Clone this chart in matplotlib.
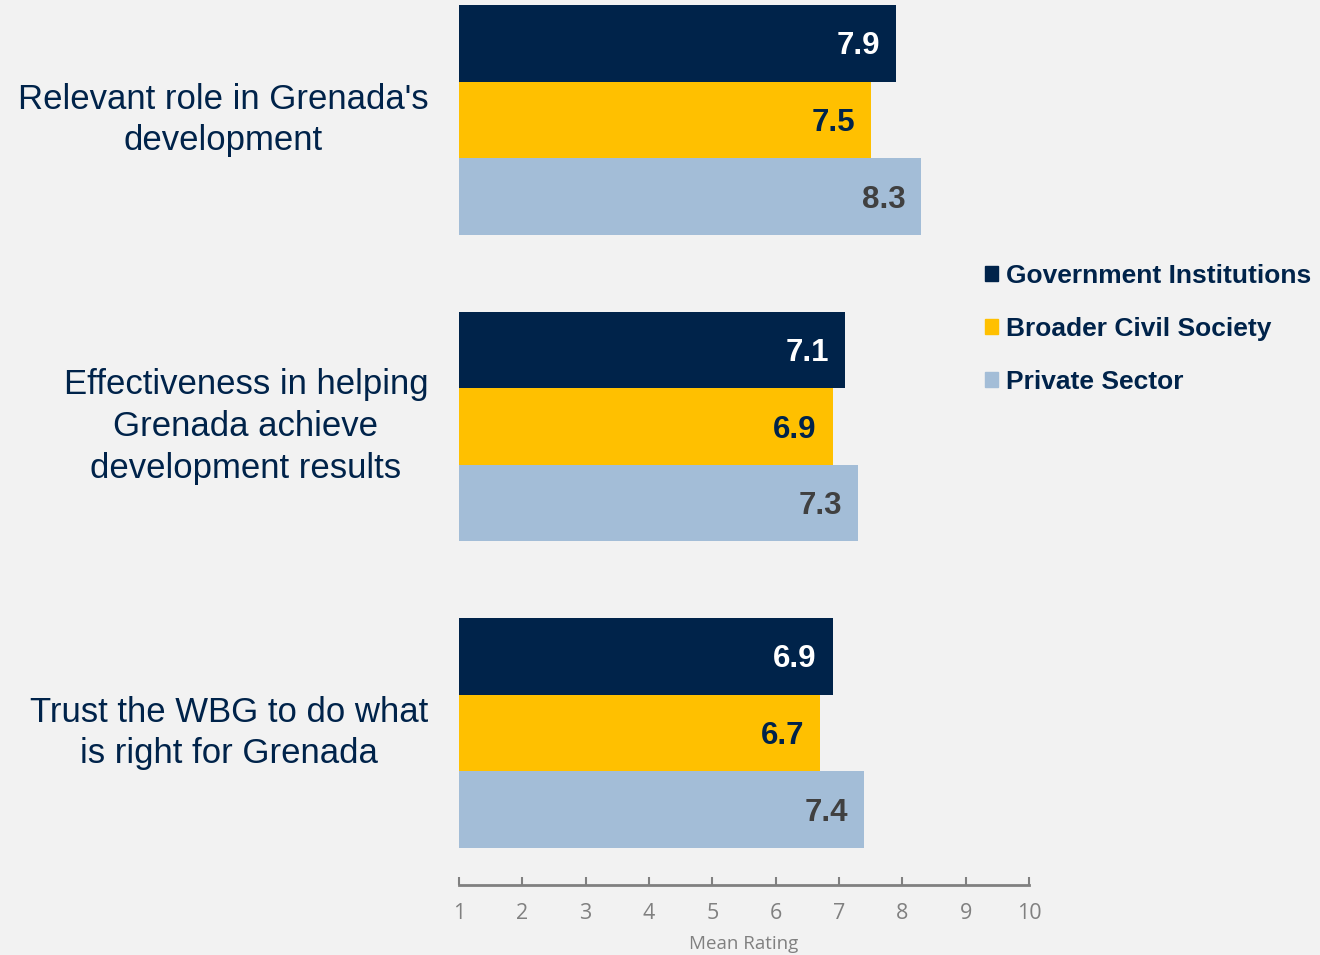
import numpy as np
import matplotlib.pyplot as plt
from matplotlib.patches import Patch

categories = ["Relevant role in Grenada's\ndevelopment",
              "Effectiveness in helping\nGrenada achieve\ndevelopment results",
              "Trust the WBG to do what\nis right for Grenada"]
series = ["Government Institutions", "Broader Civil Society", "Private Sector"]
government = [7.9, 7.1, 6.9]
civil = [7.5, 6.9, 6.7]
private = [8.3, 7.3, 7.4]

colors = ["#00234a", "#ffc000", "#a3bdd7"]
label_colors = ["white", "#00234a", "#404040"]
navy = "#00234a"
grey = "#808080"
bg = "#f2f2f2"

plt.rcParams['font.family'] = ['Liberation Sans', 'DejaVu Sans']

fig = plt.figure(figsize=(13.2, 9.55), dpi=100, facecolor=bg)
ax = fig.add_axes([459/1320, 1 - 885/955, 570/1320, 880/955])
ax.set_facecolor(bg)

y = np.arange(len(categories))
h = 0.25
for i, vals in enumerate([government, civil, private]):
    pos = y - h + i*h
    ax.barh(pos, np.array(vals) - 1, left=1, height=h, color=colors[i], label=series[i])
    for p, v in zip(pos, vals):
        ax.text(v - 0.25, p + 0.01, f"{v:.1f}", ha='right', va='center', fontsize=22.5,
                fontweight='bold', color=label_colors[i])

ax.set_xlim(1, 10)
ax.set_ylim(2.496, -0.375)
ax.set_xticks(range(1, 11))
ax.set_yticks([])
for s in ['top', 'right', 'left']:
    ax.spines[s].set_visible(False)
ax.spines['bottom'].set_color(grey)
ax.spines['bottom'].set_linewidth(2)
ax.tick_params(axis='x', direction='in', length=6, width=1.5, color=grey,
               labelcolor=grey, labelsize=15.5, pad=13)
for t in ax.get_xticklabels():
    t.set_family(['Open Sans', 'DejaVu Sans'])
ax.set_xlabel("Mean Rating", color=grey, fontsize=13.5, labelpad=8, family=['Open Sans', 'DejaVu Sans'])

for c, yy in zip(categories, y):
    ax.text(-0.054, yy, c, transform=ax.get_yaxis_transform(), ha='right', va='center',
            multialignment='center', fontsize=25, color=navy, linespacing=1.33)

handles = [Patch(color=c) for c in colors]
leg = fig.legend(handles, series, loc='upper left', bbox_to_anchor=(961/1320, 1 - 240/955),
                 frameon=False, handlelength=0.5, handleheight=0.5, handletextpad=0.3,
                 labelspacing=1.1, prop={'size': 19, 'weight': 'bold'})
for t in leg.get_texts():
    t.set_color(navy)

fig.savefig("out.png", facecolor=bg)
